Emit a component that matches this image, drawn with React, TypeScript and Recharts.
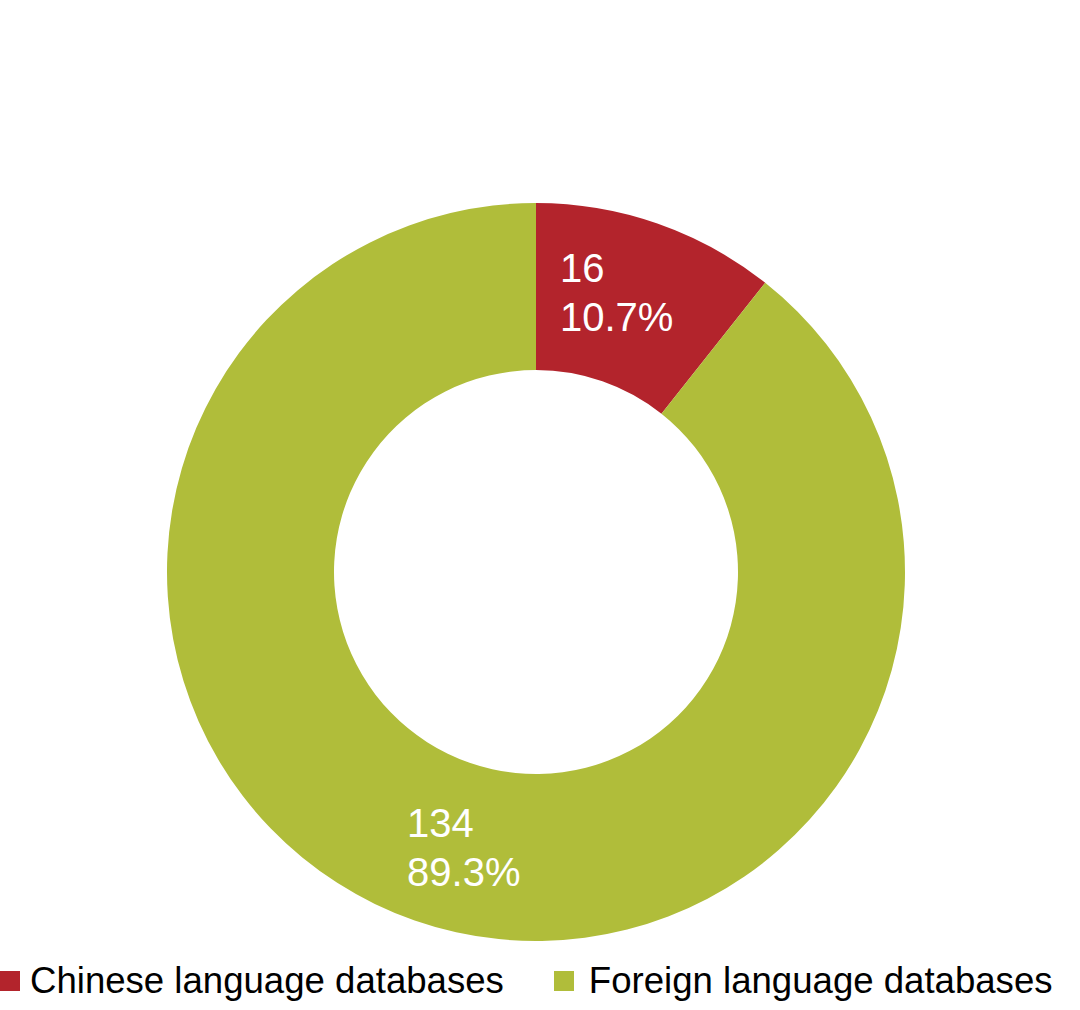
import { PieChart, Pie, Cell, Legend } from "recharts";

// Database counts by language
const CATEGORIES = ["Chinese language databases", "Foreign language databases"];
const COUNTS = [16, 134];
const PERCENT_LABELS = ["10.7%", "89.3%"];
const COLORS = ["#B3242C", "#B0BD3A"];

const DATA = CATEGORIES.map((name, i) => ({
  name,
  value: COUNTS[i],
  pct: PERCENT_LABELS[i],
}));

const RAD = Math.PI / 180;

function SliceLabel(props: any) {
  const { cx, cy, midAngle, innerRadius, outerRadius, payload } = props;
  const r = (innerRadius + outerRadius) / 2;
  const x = cx + r * Math.cos(-midAngle * RAD);
  const y = cy + r * Math.sin(-midAngle * RAD);
  // left-aligned two line block, nudged to sit like the original
  const right = x > cx;
  const left = x - 70 + (right ? 0 : 35);
  const top = y + (right ? -20 : -5);
  return (
    <text
      x={left}
      y={top}
      fill="#ffffff"
      fontSize={40}
      fontFamily="Liberation Sans, Arial, sans-serif"
      textAnchor="start"
    >
      <tspan x={left} dy={0}>
        {payload.value}
      </tspan>
      <tspan x={left} dy={49}>
        {payload.pct}
      </tspan>
    </text>
  );
}

function LegendContent(props: any) {
  const { payload } = props;
  return (
    <div
      style={{
        display: "flex",
        alignItems: "center",
        fontFamily: "Liberation Sans, Arial, sans-serif",
        fontSize: 36.6,
        color: "#000",
      }}
    >
      {payload.map((p: any, i: number) => (
        <div
          key={p.value}
          style={{
            display: "flex",
            alignItems: "center",
            marginLeft: i === 0 ? 0 : 50,
          }}
        >
          <span
            style={{
              display: "inline-block",
              width: 20,
              height: 20,
              background: p.color,
              marginRight: i === 0 ? 10 : 15,
            }}
          />
          <span>{p.value}</span>
        </div>
      ))}
    </div>
  );
}

export default function App() {
  return (
    <div style={{ position: "absolute", left: 0, top: 0, background: "#fff" }}>
      <PieChart
        width={1080}
        height={1010}
        margin={{ top: 0, right: 0, bottom: 0, left: 0 }}
      >
        <Pie
          data={DATA}
          dataKey="value"
          nameKey="name"
          cx={536}
          cy={572}
          innerRadius={202}
          outerRadius={369}
          startAngle={90}
          endAngle={-270}
          stroke="none"
          label={SliceLabel}
          labelLine={false}
          isAnimationActive={false}
        >
          {DATA.map((d, i) => (
            <Cell key={d.name} fill={COLORS[i]} />
          ))}
        </Pie>
        <Legend
          content={LegendContent}
          wrapperStyle={{ position: "absolute", left: 0, top: 960, width: 1080 }}
        />
      </PieChart>
    </div>
  );
}
